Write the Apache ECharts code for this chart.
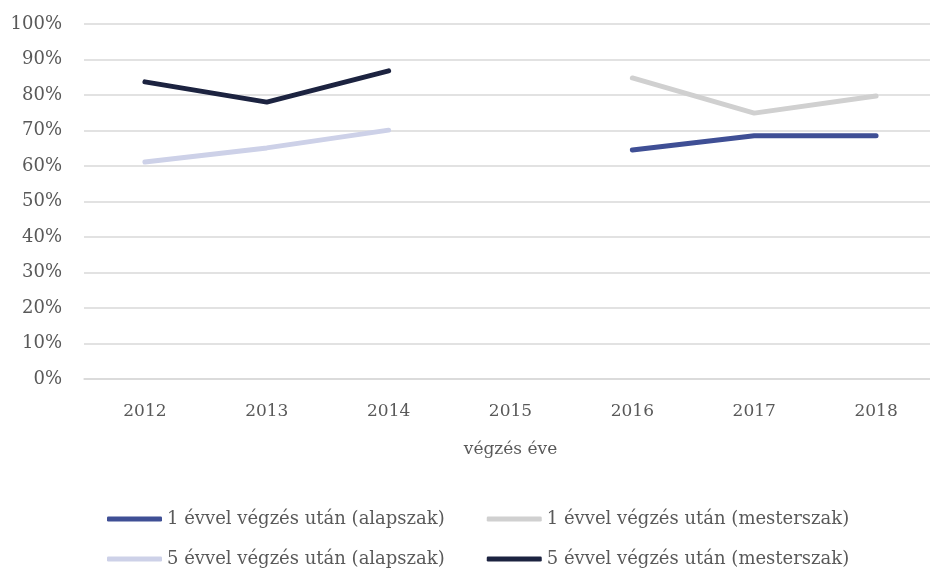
<!DOCTYPE html>
<html>
<head>
<meta charset="utf-8">
<script src="https://cdn.jsdelivr.net/npm/echarts@6/dist/echarts.min.js"></script>
<style>
  html, body { margin: 0; padding: 0; background: #fff; }
  #container { width: 930px; height: 572px; }
</style>
</head>
<body>
<div id="container"></div>
<script>
var years = ['2012', '2013', '2014', '2015', '2016', '2017', '2018'];
var seriesNames = [
  '1 évvel végzés után (alapszak)',
  '1 évvel végzés után (mesterszak)',
  '5 évvel végzés után (alapszak)',
  '5 évvel végzés után (mesterszak)'
];
// értékek %-ban
var egyAlap   = [null, null, null, null, 64.5, 68.5, 68.5];
var egyMester = [null, null, null, null, 84.8, 74.9, 79.7];
var otAlap    = [61.1, 65.1, 70.1, null, null, null, null];
var otMester  = [83.7, 78.0, 86.8, null, null, null, null];
var colors = ['#3f4f95', '#d0d0d0', '#cdd1e8', '#1c2340'];

var fontName = '"DejaVu Serif", serif';
var myChart = echarts.init(document.getElementById('container'));

function mkLine(name, data, color) {
  return {
    name: name,
    type: 'line',
    data: data,
    showSymbol: false,
    symbol: 'none',
    connectNulls: false,
    lineStyle: { width: 5, color: color, cap: 'round' },
    itemStyle: { color: color }
  };
}

var legendCommon = {
  icon: 'roundRect',
  itemWidth: 55,
  itemHeight: 5,
  itemGap: 42,
  textStyle: { color: '#595959', fontSize: 18, fontFamily: fontName }
};

var option = {
  animation: false,
  color: colors,
  grid: { left: 84, right: -7, top: 24, bottom: 193, outerBoundsMode: 'none' },
  legend: [
    Object.assign({ left: 102, top: 505, data: [seriesNames[0], seriesNames[1]] }, legendCommon),
    Object.assign({ left: 102, top: 545, data: [seriesNames[2], seriesNames[3]] }, legendCommon)
  ],
  xAxis: {
    type: 'category',
    data: years,
    boundaryGap: true,
    name: 'végzés éve',
    nameLocation: 'middle',
    nameGap: 62,
    nameTextStyle: { color: '#595959', fontSize: 17, fontFamily: fontName },
    axisLine: { show: true, lineStyle: { color: '#d9d9d9', width: 1.5 } },
    axisTick: { show: false },
    axisLabel: { color: '#595959', fontSize: 17, fontFamily: fontName, margin: 24 }
  },
  yAxis: {
    type: 'value',
    min: 0,
    max: 100,
    interval: 10,
    axisLine: { show: false },
    axisTick: { show: false },
    splitLine: { lineStyle: { color: '#d9d9d9', width: 1.5 } },
    axisLabel: {
      color: '#595959', fontSize: 18, fontFamily: fontName, margin: 22,
      formatter: '{value}%'
    }
  },
  series: [
    mkLine(seriesNames[0], egyAlap, colors[0]),
    mkLine(seriesNames[1], egyMester, colors[1]),
    mkLine(seriesNames[2], otAlap, colors[2]),
    mkLine(seriesNames[3], otMester, colors[3])
  ]
};
myChart.setOption(option);
</script>
</body>
</html>
